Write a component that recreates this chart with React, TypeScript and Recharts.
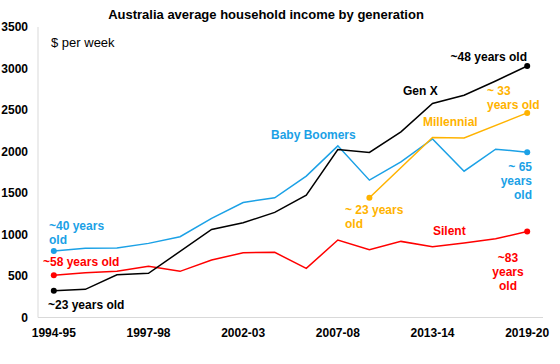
import React from "react";
import { Line, LineChart, XAxis, YAxis } from "recharts";

// ABS survey years
const years = [
  "1994-95", "1995-96", "1996-97", "1997-98", "1999-00", "2000-01", "2002-03", "2003-04",
  "2005-06", "2007-08", "2009-10", "2011-12", "2013-14", "2015-16", "2017-18", "2019-20",
];

// $ per week
const genX = [322, 339, 515, 532, null, 1061, 1141, 1266, 1474, 2024, 1988, 2236, 2578, 2678, 2850, 3030];
const boomers = [800, 833, 836, 893, 973, 1194, 1386, 1442, 1703, 2068, 1655, 1875, 2152, 1763, 2028, 1992];
const silent = [508, 539, 556, 616, 556, 692, 780, 785, 592, 933, 816, 917, 852, 897, 948, 1037];
const millennial = [null, null, null, null, null, null, null, null, null, null, 1442, null, 2169, 2164, null, 2465];

const yTicks = [0, 500, 1000, 1500, 2000, 2500, 3000, 3500];

const BLACK = "#000000";
const BLUE = "#1ba1e6";
const RED = "#ff0000";
const ORANGE = "#ffb300";
const BORDER = "#d9d9d9";
const FONT = "'Liberation Sans', Arial, sans-serif";

const data = years.map((year, i) => ({
  year,
  genX: genX[i],
  boomers: boomers[i],
  silent: silent[i],
  millennial: millennial[i],
}));

function endDots(values: (number | null)[], color: string) {
  const idx = values.map((v, i) => (v == null ? -1 : i)).filter((i) => i >= 0);
  const first = idx[0];
  const last = idx[idx.length - 1];
  return (props: any) => {
    const { cx, cy, index } = props;
    if ((index === first || index === last) && cx != null && cy != null) {
      return <circle key={`d${index}`} cx={cx} cy={cy} r={3} fill={color} stroke="none" />;
    }
    return <g key={`d${index}`} />;
  };
}

type Note = { lines: string[]; x: number; y: number; anchor: "start" | "middle" | "end"; color: string };

const notes: Note[] = [
  { lines: ["~48 years old"], x: 527, y: 60.5, anchor: "end", color: BLACK },
  { lines: ["Gen X"], x: 403, y: 95, anchor: "start", color: BLACK },
  { lines: ["~ 33", "years old"], x: 487, y: 95, anchor: "start", color: ORANGE },
  { lines: ["Millennial"], x: 423, y: 126, anchor: "start", color: ORANGE },
  { lines: ["Baby Boomers"], x: 271, y: 138.5, anchor: "start", color: BLUE },
  { lines: ["~ 65", "years", "old"], x: 532, y: 171, anchor: "end", color: BLUE },
  { lines: ["Silent"], x: 433, y: 234.5, anchor: "start", color: RED },
  { lines: ["~83", "years", "old"], x: 508, y: 262, anchor: "middle", color: RED },
  { lines: ["~ 23 years", "old"], x: 345, y: 213.5, anchor: "start", color: ORANGE },
  { lines: ["~40 years", "old"], x: 49, y: 229.5, anchor: "start", color: BLUE },
  { lines: ["~58 years old"], x: 43, y: 265.5, anchor: "start", color: RED },
  { lines: ["~23 years old"], x: 48, y: 308.5, anchor: "start", color: BLACK },
];

export default function App() {
  const tickStyle = { fontSize: 12, fontWeight: 700, fill: "#000", fontFamily: FONT };
  return (
    <div style={{ position: "absolute", left: 0, top: 0, width: 560, height: 364, background: "#fff" }}>
      <LineChart width={560} height={364} data={data} margin={{ top: 27, right: 17, left: 0, bottom: 16.5 }}>
        <XAxis
          dataKey="year"
          interval={2}
          height={30}
          padding={{ left: 15.8, right: 15.8 }}
          tickLine={false}
          axisLine={{ stroke: BORDER }}
          tickMargin={5}
          tick={tickStyle}
        />
        <XAxis
          xAxisId="top"
          dataKey="year"
          orientation="top"
          height={0}
          tick={false}
          tickLine={false}
          axisLine={{ stroke: BORDER }}
        />
        <YAxis
          domain={[0, 3500]}
          ticks={yTicks}
          width={38}
          tickLine={false}
          axisLine={{ stroke: BORDER }}
          tickMargin={4}
          tick={tickStyle}
        />
        <YAxis
          yAxisId="right"
          orientation="right"
          domain={[0, 3500]}
          width={0}
          tick={false}
          tickLine={false}
          axisLine={{ stroke: BORDER }}
        />
        <Line dataKey="silent" stroke={RED} strokeWidth={1.5} dot={endDots(silent, RED)} isAnimationActive={false} connectNulls />
        <Line dataKey="boomers" stroke={BLUE} strokeWidth={1.5} dot={endDots(boomers, BLUE)} isAnimationActive={false} connectNulls />
        <Line dataKey="millennial" stroke={ORANGE} strokeWidth={1.5} dot={endDots(millennial, ORANGE)} isAnimationActive={false} connectNulls />
        <Line dataKey="genX" stroke={BLACK} strokeWidth={1.5} dot={endDots(genX, BLACK)} isAnimationActive={false} connectNulls />
      </LineChart>
      <svg width={560} height={364} style={{ position: "absolute", left: 0, top: 0, pointerEvents: "none" }}>
        <text x={266} y={18.5} textAnchor="middle" fontFamily={FONT} fontSize={13} fontWeight={700} fill="#000">
          Australia average household income by generation
        </text>
        <text x={51} y={47} fontFamily={FONT} fontSize={13} fill="#000">
          $ per week
        </text>
        {notes.map((n, i) => (
          <text key={i} x={n.x} y={n.y} textAnchor={n.anchor} fontFamily={FONT} fontSize={12} fontWeight={700} fill={n.color}>
            {n.lines.map((l, j) => (
              <tspan key={j} x={n.x} dy={j === 0 ? 0 : 14.2}>
                {l}
              </tspan>
            ))}
          </text>
        ))}
      </svg>
    </div>
  );
}
